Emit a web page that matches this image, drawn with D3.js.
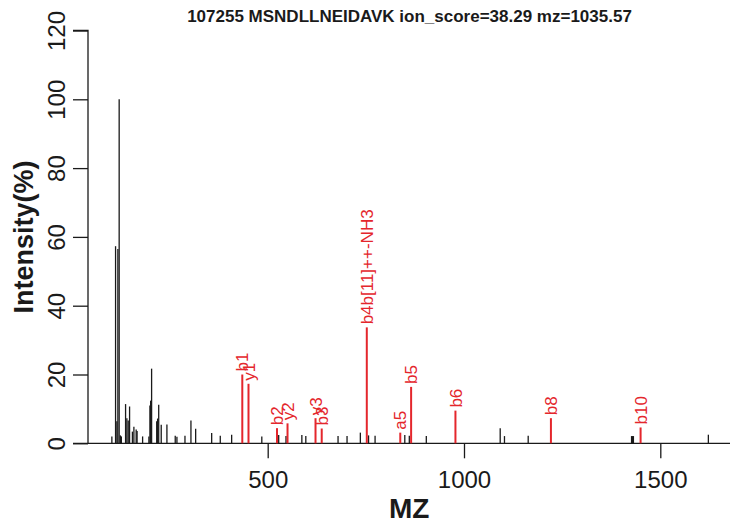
<!DOCTYPE html>
<html>
<head>
<meta charset="utf-8">
<script src="https://cdn.jsdelivr.net/npm/d3@7"></script>
<style>
  html, body { margin: 0; padding: 0; background: #fff; }
  svg { display: block; font-family: "Liberation Sans", Arial, Helvetica, sans-serif; }
</style>
</head>
<body>
<svg id="chart" width="730" height="527"></svg>
<script>
// ---- data ----
const title = "107255 MSNDLLNEIDAVK ion_score=38.29 mz=1035.57";
const xLabel = "MZ";
const yLabel = "Intensity(%)";
const xTicks = [500, 1000, 1500];
const yTicks = [0, 20, 40, 60, 80, 100, 120];

// unmatched peaks (black)
const peakMz = [103.1, 112.5, 115.9, 118.4, 121.7, 124.8, 127.3, 138.0, 141.3, 144.7, 148.2,
  155.4, 159.2, 165.0, 167.3, 181.4, 197.4, 200.0, 201.8, 204.3, 217.3, 219.6, 222.4, 228.8,
  243.3, 264.5, 268.8, 289.3, 304.5, 316.5, 357.3, 379.2, 408.2, 485.0, 528.0, 546.6, 587.0,
  597.1, 679.2, 702.1, 736.0, 756.9, 773.5, 849.2, 860.7, 904.0, 1092.2, 1103.1, 1163.5,
  1426.8, 1429.0, 1431.5, 1622.4];
const peakInt = [2.0, 57.3, 6.4, 56.5, 100.0, 2.3, 2.0, 11.4, 7.3, 6.6, 10.7,
  3.4, 4.8, 4.0, 3.6, 2.0, 2.0, 11.0, 12.4, 21.7, 6.4, 7.2, 11.2, 5.4,
  5.5, 2.2, 1.9, 2.2, 6.6, 4.2, 3.0, 2.2, 2.5, 2.0, 2.4, 2.1, 2.4,
  2.1, 2.1, 2.1, 3.1, 2.3, 2.2, 2.4, 2.2, 2.1, 4.4, 2.1, 2.2,
  2.1, 2.1, 2.1, 2.5];

// matched fragment ions (red)
const ionLabels = ["b1", "y1", "b2", "y2", "y3", "b3", "b4b[11]++-NH3", "a5", "b5", "b6", "b8", "b10"];
const ionMz = [435.3, 451.1, 523.7, 550.5, 621.8, 637.6, 752.4, 837.7, 865.3, 978.2, 1221.4, 1449.8];
const ionInt = [20.0, 17.3, 4.4, 5.8, 7.3, 4.3, 33.7, 3.1, 16.4, 9.5, 7.3, 4.6];

// ---- drawing ----
const svg = d3.select("#chart");
const W = 730, H = 527;
const mLeft = 88, mRight = 730.5, mTop = 30.5, mBottom = 443.3;

const x = d3.scaleLinear().domain([42.3, 1678.8]).range([mLeft, mRight]);
const y = d3.scaleLinear().domain([0, 120]).range([mBottom, mTop]);

const ink = "#1a1a1a";
const red = "#e4262c";

// baseline
svg.append("line")
  .attr("x1", mLeft).attr("x2", W).attr("y1", mBottom).attr("y2", mBottom)
  .attr("stroke", ink).attr("stroke-width", 1.3);

// black peaks
svg.append("g").selectAll("line")
  .data(peakMz.map((m, i) => ({ m, v: peakInt[i] })))
  .join("line")
  .attr("x1", d => x(d.m)).attr("x2", d => x(d.m))
  .attr("y1", y(0)).attr("y2", d => y(d.v))
  .attr("stroke", ink).attr("stroke-width", 1.3);

// red peaks
const ions = ionMz.map((m, i) => ({ m, v: ionInt[i], label: ionLabels[i] }));
svg.append("g").selectAll("line")
  .data(ions)
  .join("line")
  .attr("x1", d => x(d.m)).attr("x2", d => x(d.m))
  .attr("y1", y(0)).attr("y2", d => y(d.v))
  .attr("stroke", red).attr("stroke-width", 2);

svg.append("g").selectAll("text")
  .data(ions)
  .join("text")
  .attr("transform", d => `translate(${x(d.m)},${y(d.v) - 3}) rotate(-90)`)
  .attr("dy", "0.36em")
  .attr("text-anchor", "start")
  .attr("font-size", 17)
  .attr("fill", red)
  .text(d => d.label);

// y axis
const yAxis = svg.append("g")
  .attr("transform", `translate(${mLeft},0)`)
  .call(d3.axisLeft(y).tickValues(yTicks).tickSize(15).tickFormat(d3.format("d")));
yAxis.select(".domain").attr("stroke", ink).attr("stroke-width", 1.3).attr("d", `M-15,${y(120)}H0V${y(0)}H-15`);
yAxis.selectAll(".tick line").attr("stroke", ink).attr("stroke-width", 1.3);
yAxis.selectAll(".tick text")
  .attr("dy", null)
  .attr("transform", "rotate(-90)")
  .attr("y", -23)
  .attr("x", 0)
  .attr("text-anchor", "middle")
  .attr("font-size", 24)
  .attr("font-family", "Liberation Sans, Arial, sans-serif")
  .attr("fill", ink);

// x axis
const xAxis = svg.append("g")
  .attr("transform", `translate(0,${mBottom})`)
  .call(d3.axisBottom(x).tickValues(xTicks).tickSize(15).tickFormat(d3.format("d")));
xAxis.select(".domain").remove();
xAxis.selectAll(".tick line").attr("stroke", ink).attr("stroke-width", 1.3);
xAxis.selectAll(".tick text")
  .attr("dy", null)
  .attr("y", 45)
  .attr("font-size", 24)
  .attr("font-family", "Liberation Sans, Arial, sans-serif")
  .attr("fill", ink);

// titles
svg.append("text")
  .attr("x", 409.5).attr("y", 22)
  .attr("text-anchor", "middle")
  .attr("font-size", 17).attr("font-weight", "bold")
  .attr("fill", ink)
  .text(title);

svg.append("text")
  .attr("x", (mLeft + mRight) / 2).attr("y", 518)
  .attr("text-anchor", "middle")
  .attr("font-size", 28).attr("font-weight", "bold")
  .attr("fill", ink)
  .text(xLabel);

svg.append("text")
  .attr("transform", `translate(33,${(mTop + mBottom) / 2}) rotate(-90)`)
  .attr("text-anchor", "middle")
  .attr("font-size", 27).attr("font-weight", "bold")
  .attr("fill", ink)
  .text(yLabel);
</script>
</body>
</html>
